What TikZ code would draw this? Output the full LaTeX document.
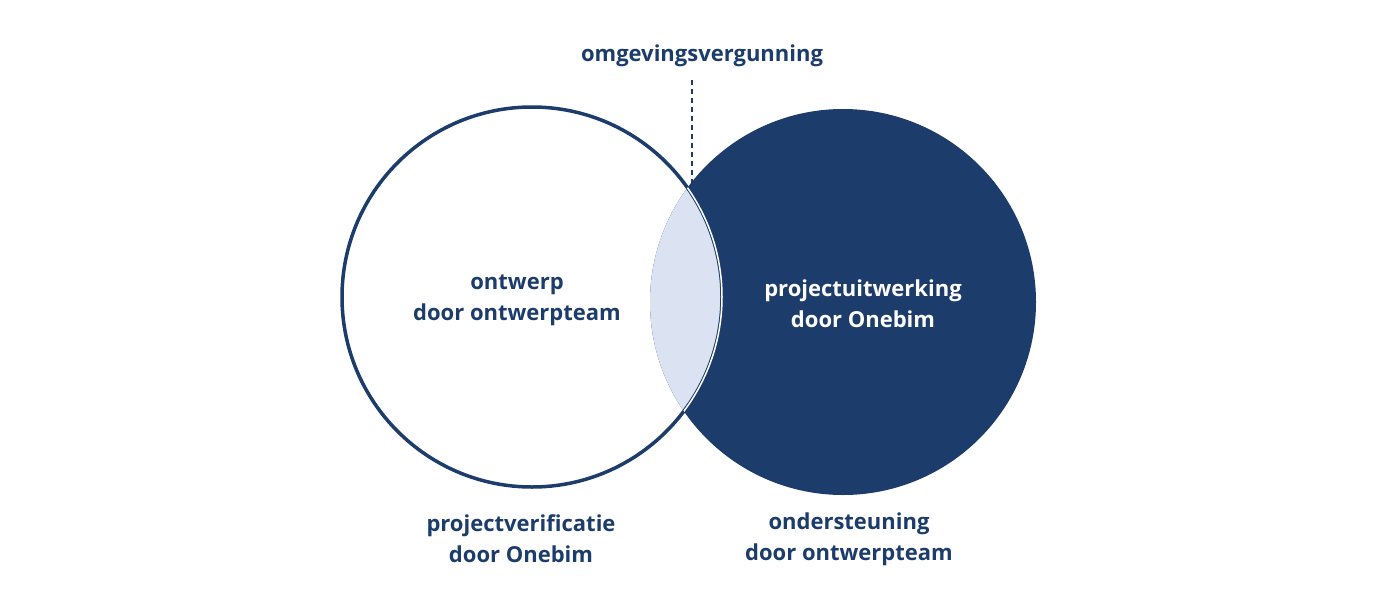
\documentclass[tikz,border=0pt]{standalone}
\usepackage{fontspec}
\setmainfont{Open Sans}
\definecolor{navy}{HTML}{1C3C6B}
\definecolor{lens}{HTML}{DBE3F3}
\begin{document}
\begin{tikzpicture}[x=1pt,y=-1pt,
  lbl/.style={font=\bfseries\fontsize{22}{31}\selectfont,align=center,text=navy}]
\useasboundingbox (0,0) rectangle (1400,600);
\coordinate (L) at (532,297);
\coordinate (R) at (843,302);
\fill[navy] (R) circle (193);
\begin{scope}
\clip (L) circle (190);
\fill[lens] (R) circle (193);
\draw[white,line width=1.5] (L) circle (190);
\end{scope}
\begin{scope}
\clip (0,0) rectangle (1400,600);
\draw[navy,line width=3.5] (L) circle (190);
\end{scope}
\begin{scope}
\clip (R) circle (193);
\draw[white,line width=1.5] (L) circle (190);
\end{scope}
\node[lbl] (top) at (702,56) {omgevingsvergunning};
\coordinate (ds) at (692,80);
\coordinate (de) at (692,184);
\draw[navy,line width=2.5,dash pattern=on 5pt off 4pt] (ds) -- (de);
\node[lbl] (a) at (517,300) {ontwerp\\door ontwerpteam};
\node[lbl,text=white] (b) at (863,304) {projectuitwerking\\door Onebim};
\node[lbl] (c) at (521,539) {projectverificatie\\door Onebim};
\node[lbl] (d) at (849,539) {ondersteuning\\door ontwerpteam};
\end{tikzpicture}
\end{document}
